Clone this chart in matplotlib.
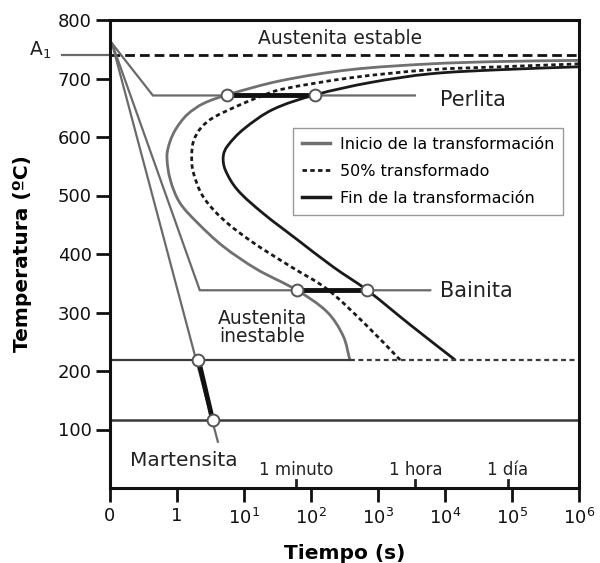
import math
import matplotlib
matplotlib.use("Agg")
import matplotlib.pyplot as plt
from matplotlib.lines import Line2D
from matplotlib.path import Path
from matplotlib.patches import PathPatch

plt.rcParams['font.family'] = ['DejaVu Sans']
plt.rcParams['mathtext.fontset'] = 'dejavusans'

# ---- axis definitions (x in "decade position": 0 -> 0 s, 1 -> 1 s, k -> 10^(k-1) s)
x_ticks = [0, 1, 2, 3, 4, 5, 6, 7]
x_tick_labels = ["0", "1", "$10^{1}$", "$10^{2}$", "$10^{3}$", "$10^{4}$", "$10^{5}$", "$10^{6}$"]
y_ticks = [100, 200, 300, 400, 500, 600, 700, 800]

# ---- reference times
event_pos = [2.78, 4.556, 5.94]
event_labels = ["1 minuto", "1 hora", "1 día"]

# ---- key temperatures
T_A1 = 740
T_Ms = 219
T_Mf = 117
T_start = 760

# ---- TTT curves (position, temperature)
inicio_u = [7.0, 5.82, 4.78, 3.58, 2.54, 1.75, 1.39, 1.15, 0.985, 0.895, 0.85, 0.90, 1.04, 1.30, 1.69, 2.19, 2.79, 3.24, 3.48, 3.58]
inicio_T = [731, 729, 725, 715, 696, 672, 657, 638, 614, 592, 567, 527, 488, 454, 413, 374, 338, 301, 260, 219]

mitad_u = [7.0, 5.82, 4.78, 3.58, 2.54, 2.24, 1.94, 1.54, 1.36, 1.25, 1.22, 1.24, 1.39, 1.69, 2.13, 2.69, 3.24, 3.81, 4.33]
mitad_T = [725, 720, 715, 701, 681, 669, 655, 633, 616, 594, 570, 541, 498, 459, 420, 379, 340, 280, 219]

fin_u = [7.0, 5.82, 4.78, 3.88, 3.06, 2.43, 1.99, 1.75, 1.69, 1.72, 1.90, 2.28, 2.79, 3.33, 3.84, 4.48, 5.15]
fin_T = [720, 715, 708, 693, 672, 647, 613, 584, 567, 544, 510, 470, 425, 378, 338, 279, 219]

# ---- cooling paths
perlita_u = [0.03, 0.64, 4.55]
perlita_T = [T_start, 671, 671]
perlita_marks = [1.75, 3.06]

bainita_u = [0.03, 1.34, 4.78]
bainita_T = [T_start, 338, 338]
bainita_marks = [2.79, 3.84]

martensita_u = [0.03, 1.61]
martensita_T = [T_start, 79]
martensita_marks_u = [1.32, 1.53]
martensita_marks_T = [T_Ms, T_Mf]

GRAY = '#6a6a6a'
DARK = '#3a3a3a'

SX, SY = 67.0, 0.587   # approximate pixel scale used only for tangent directions


def smooth_path(us, ts):
    """Cubic Bezier path through the given points (chord-scaled Catmull-Rom tangents)."""
    pts = [(u * SX, t * SY) for u, t in zip(us, ts)]
    n = len(pts)

    def tangent(i):
        a = pts[max(i - 1, 0)]
        b = pts[min(i + 1, n - 1)]
        dx, dy = b[0] - a[0], b[1] - a[1]
        L = math.hypot(dx, dy) or 1.0
        return dx / L, dy / L

    tans = [tangent(i) for i in range(n)]
    verts = [pts[0]]
    codes = [Path.MOVETO]
    for i in range(n - 1):
        p1, p2 = pts[i], pts[i + 1]
        d = math.hypot(p2[0] - p1[0], p2[1] - p1[1]) / 3.0
        c1 = (p1[0] + tans[i][0] * d, p1[1] + tans[i][1] * d)
        c2 = (p2[0] - tans[i + 1][0] * d, p2[1] - tans[i + 1][1] * d)
        verts += [c1, c2, p2]
        codes += [Path.CURVE4] * 3
    verts = [(x / SX, y / SY) for x, y in verts]
    return Path(verts, codes)


fig = plt.figure(figsize=(6.0, 5.63), dpi=100)
ax = fig.add_axes([110/600, 1-488/563, 469/600, 468/563])
ax.set_xlim(0, 7)
ax.set_ylim(0, 800)

# A1 line
ax.plot([-0.72, 0], [T_A1, T_A1], color=GRAY, lw=1.6, clip_on=False)
ax.plot([0, 7], [T_A1, T_A1], color='#111111', lw=2.0, dashes=(3.5, 1.8))

# Ms / Mf lines
ax.plot([0, inicio_u[-1]], [T_Ms, T_Ms], color=DARK, lw=1.6)
ax.plot([inicio_u[-1], 7], [T_Ms, T_Ms], color=DARK, lw=1.6, dashes=(2.2, 1.6))
ax.plot([0, 7], [T_Mf, T_Mf], color=DARK, lw=1.8)

# cooling paths
ax.plot(perlita_u, perlita_T, color=GRAY, lw=1.6, solid_joinstyle='miter')
ax.plot(bainita_u, bainita_T, color=GRAY, lw=1.6, solid_joinstyle='miter')
ax.plot(martensita_u, martensita_T, color=GRAY, lw=1.6)

# TTT curves (smooth)
ax.add_patch(PathPatch(smooth_path(inicio_u, inicio_T), fill=False, edgecolor='#707070', lw=2.0))
ax.add_patch(PathPatch(smooth_path(mitad_u, mitad_T), fill=False, edgecolor='#1a1a1a', lw=2.0,
                       linestyle=(0, (1.6, 1.2))))
ax.add_patch(PathPatch(smooth_path(fin_u, fin_T), fill=False, edgecolor='#1a1a1a', lw=2.0))

# thick transformation segments
ax.plot(perlita_marks, [671, 671], color='#111111', lw=3.5, solid_capstyle='butt')
ax.plot(bainita_marks, [338, 338], color='#111111', lw=3.5, solid_capstyle='butt')
ax.plot(martensita_marks_u, martensita_marks_T, color='#111111', lw=3.5, solid_capstyle='butt')

# markers
mk = dict(marker='o', ms=8.5, mfc='white', mec='#555555', mew=1.4, ls='none', zorder=5)
ax.plot(perlita_marks, [671, 671], **mk)
ax.plot(bainita_marks, [338, 338], **mk)
ax.plot(martensita_marks_u, martensita_marks_T, **mk)

# texts
ax.text(3.43, 769, "Austenita estable", ha='center', va='center', fontsize=13.5, color='#222222')
ax.text(-1.04, 748, "A$_1$", ha='center', va='center', fontsize=13.5, color='#222222')
ax.text(4.93, 664, "Perlita", ha='left', va='center', fontsize=15, color='#222222')
ax.text(4.93, 337, "Bainita", ha='left', va='center', fontsize=15, color='#222222')
ax.text(2.27, 275, "Austenita\ninestable", ha='center', va='center', fontsize=13.5,
        color='#222222', linespacing=0.95)
ax.text(0.3, 47, "Martensita", ha='left', va='center', fontsize=14.5, color='#222222')

for p, lab in zip(event_pos, event_labels):
    ax.plot([p, p], [0, 14], color='#222222', lw=2.0, clip_on=False)
    ax.text(p, 31, lab, ha='center', va='center', fontsize=12, color='#222222')

# axes styling
for s in ax.spines.values():
    s.set_linewidth(2.2)
    s.set_color('#111111')
ax.set_xticks(x_ticks)
ax.set_xticklabels(x_tick_labels)
ax.set_yticks(y_ticks)
ax.tick_params(axis='both', direction='out', length=10, width=2.0, labelsize=13,
               colors='#111111', pad=4)
ax.tick_params(axis='y', pad=3)
ax.set_xlabel("Tiempo (s)", fontsize=14.5, fontweight='bold', labelpad=12)
ax.set_ylabel("Temperatura (ºC)", fontsize=14.5, fontweight='bold', labelpad=19)

handles = [
    Line2D([], [], color='#707070', lw=2.5),
    Line2D([], [], color='#1a1a1a', lw=2.0, dashes=(1.6, 1.2)),
    Line2D([], [], color='#1a1a1a', lw=2.5),
]
leg = ax.legend(handles, ["Inicio de la transformación", "50% transformado", "Fin de la transformación"],
                loc='upper left', bbox_to_anchor=(0.39, 0.769), borderaxespad=0,
                fontsize=11.5, fancybox=False, framealpha=1, edgecolor='#999999',
                handlelength=1.8, handletextpad=0.6, labelspacing=0.75, borderpad=0.55)
leg.get_frame().set_linewidth(1.0)

fig.savefig("out.png", dpi=100)
